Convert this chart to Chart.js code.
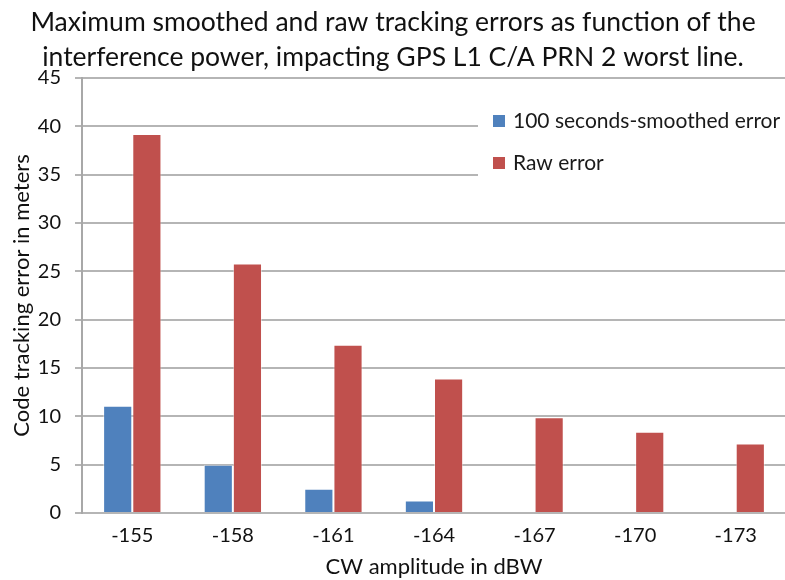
<!DOCTYPE html>
<html>
<head>
<meta charset="utf-8">
<script src="https://cdn.jsdelivr.net/npm/chart.js@4.4.1/dist/chart.umd.min.js"></script>
<style>
  html, body { margin: 0; padding: 0; background: #fff; overflow: hidden; }
  #wrap { width: 800px; height: 580px; position: relative; }
</style>
</head>
<body>
<div id="wrap"><canvas id="errChart" width="800" height="580"></canvas></div>
<script>
// CW amplitude (dBW) on the x axis
const amplitudes = ["-155", "-158", "-161", "-164", "-167", "-170", "-173"];
// code tracking errors in meters
const smoothedError = [11.1, 5.0, 2.5, 1.3, 0, 0, 0];
const rawError = [39.2, 25.8, 17.4, 13.9, 9.9, 8.4, 7.2];
const yMax = 45;
const yStep = 5;

const FONT = "Lato, 'Open Sans', sans-serif";

// legend drawn as a white box sitting over the upper right of the plot
const boxLegend = {
  id: "boxLegend",
  afterDraw(chart) {
    const ctx = chart.ctx;
    const area = chart.chartArea;
    const x0 = 478, y0 = 100;
    ctx.save();
    ctx.fillStyle = "#fff";
    ctx.fillRect(x0, y0, area.right - x0 + 20, 84);
    ctx.font = "21px " + FONT;
    ctx.textBaseline = "middle";
    chart.data.datasets.forEach((ds, i) => {
      const cy = 121 + i * 42;
      ctx.fillStyle = ds.backgroundColor;
      ctx.fillRect(x0 + 15, cy - 6, 12, 12);
      ctx.fillStyle = "#1a1a1a";
      ctx.fillText(ds.label, x0 + 35, cy);
    });
    ctx.restore();
  },
};

const ctx = document.getElementById("errChart").getContext("2d");
new Chart(ctx, {
  type: "bar",
  data: {
    labels: amplitudes,
    datasets: [
      {
        label: "100 seconds-smoothed error",
        data: smoothedError,
        backgroundColor: "#4F81BD",
        borderColor: "rgba(255,255,255,0.45)",
        borderWidth: 1,
      },
      {
        label: "Raw error",
        data: rawError,
        backgroundColor: "#C0504D",
        borderColor: "rgba(255,255,255,0.45)",
        borderWidth: 1,
      },
    ],
  },
  options: {
    responsive: false,
    animation: false,
    devicePixelRatio: 1,
    categoryPercentage: 0.58,
    barPercentage: 1,
    layout: { padding: { left: 0, right: 14, top: 0, bottom: 0 } },
    plugins: {
      legend: { display: false },
      tooltip: { enabled: false },
      title: {
        display: true,
        text: [
          "Maximum smoothed and raw tracking errors as function of the",
          "interference power, impacting GPS L1 C/A PRN 2 worst line.",
        ],
        color: "#111",
        font: { family: FONT, size: 26.5, weight: "normal", lineHeight: 1.32 },
        padding: { top: 5, bottom: 3 },
        align: "center",
      },
    },
    scales: {
      x: {
        grid: { display: false },
        border: { display: false },
        ticks: {
          color: "#111",
          font: { family: FONT, size: 20 },
          padding: 3,
          maxRotation: 0,
        },
        title: {
          display: true,
          text: "CW amplitude in dBW",
          color: "#111",
          font: { family: FONT, size: 22 },
          padding: { top: 4, bottom: 0 },
        },
        afterFit(scale) { scale.height = 67; },
      },
      y: {
        min: 0,
        max: yMax,
        ticks: {
          stepSize: yStep,
          color: "#111",
          font: { family: FONT, size: 20 },
          padding: 14,
        },
        grid: {
          color: "#b5b5b5",
          lineWidth: 2,
          tickLength: 7,
        },
        border: { display: true, color: "#a8a8a8", width: 2 },
        title: {
          display: true,
          text: "Code tracking error in meters",
          color: "#111",
          font: { family: FONT, size: 22 },
          padding: { top: 9, bottom: 0 },
        },
        afterFit(scale) { scale.width = 82; },
      },
    },
  },
  plugins: [boxLegend],
});
</script>
</body>
</html>
